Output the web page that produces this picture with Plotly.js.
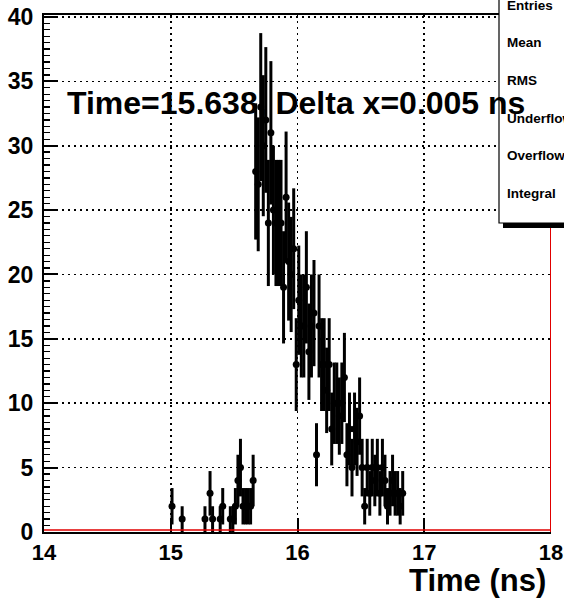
<!DOCTYPE html>
<html>
<head>
<meta charset="utf-8">
<script src="https://cdn.plot.ly/plotly-3.0.1.min.js"></script>
<style>html,body{margin:0;padding:0;background:#fff;}#chart{width:564px;height:604px;}</style>
</head>
<body>
<div id="chart"></div>
<script>
// Bin centres (ns) of non-empty bins and their counts
var binTimes = [
  15.01, 15.09, 15.27, 15.31, 15.33, 15.39, 15.41, 15.47, 15.49, 15.51,
  15.53, 15.55, 15.57, 15.59, 15.61, 15.63, 15.65,
  15.67, 15.69, 15.71, 15.73, 15.75, 15.77, 15.79, 15.81, 15.83, 15.85,
  15.87, 15.89, 15.91, 15.93, 15.95, 15.97, 15.99, 16.01, 16.03, 16.05,
  16.07, 16.09, 16.11, 16.13, 16.15, 16.17, 16.19, 16.21, 16.23, 16.25,
  16.27, 16.29, 16.31, 16.33, 16.35, 16.37, 16.39, 16.41, 16.43, 16.45,
  16.47, 16.49, 16.51, 16.53, 16.55, 16.57, 16.59, 16.61, 16.63, 16.65,
  16.67, 16.69, 16.71, 16.73, 16.75, 16.77, 16.79, 16.81, 16.83
];
var binCounts = [
  2, 1, 1, 3, 1, 1, 2, 1, 1, 2,
  4, 5, 2, 2, 2, 2, 4,
  28, 27, 33, 30, 32, 24, 31, 25, 24, 24,
  24, 19, 26, 21, 20, 22, 13, 18, 16, 16,
  19, 14, 16, 17, 6, 16, 13, 13, 11, 13,
  8, 10, 10, 9, 10, 12, 6, 8, 5, 8,
  7, 9, 5, 2, 5, 3, 5, 4, 5, 3,
  5, 4, 2, 3, 4, 3, 3, 2, 3
];
var xTickVals = [14, 15, 16, 17, 18];
var yTickVals = [0, 5, 10, 15, 20, 25, 30, 35, 40];
var titleText = 'Time=15.638, Delta x=0.005 ns';
var xTitleText = 'Time (ns)';
var statsLabels = ['Entries', 'Mean', 'RMS', 'Underflow', 'Overflow', 'Integral'];

// Poisson errors, as the histogram draws them
var binErrors = binCounts.map(function (c) { return Math.sqrt(c); });

var FONT = 'Liberation Sans, Arial, Helvetica, sans-serif';

var trace = {
  type: 'scatter',
  mode: 'markers',
  x: binTimes,
  y: binCounts,
  marker: {color: '#000', size: 7},
  error_y: {type: 'data', array: binErrors, visible: true, color: '#000', thickness: 3, width: 0},
  hoverinfo: 'x+y',
  cliponaxis: false
};

// plot area geometry in pixels (for paper-coordinate conversions)
var L = 44, T = 15, PW = 507, PH = 517;
function px(x) { return (x - L) / PW; }
function py(y) { return (T + PH - y) / PH; }

var statsY = [5, 43, 80, 118, 155, 193];
var annotations = [
  {xref: 'paper', yref: 'paper', x: px(65), y: py(103), xanchor: 'left', yanchor: 'middle',
   text: titleText, showarrow: false, font: {family: FONT, size: 32, color: '#000', weight: 'bold'}},
  {xref: 'paper', yref: 'paper', x: px(548), y: py(580), xanchor: 'right', yanchor: 'middle',
   text: xTitleText, showarrow: false, font: {family: FONT, size: 31, color: '#000', weight: 'bold'}}
];
statsLabels.forEach(function (s, i) {
  annotations.push({xref: 'paper', yref: 'paper', x: px(505), y: py(statsY[i]), xanchor: 'left', yanchor: 'middle',
    text: s, showarrow: false, font: {family: FONT, size: 13.5, color: '#000', weight: 'bold'}});
});

var shapes = [
  // red histogram frame lines
  {type: 'line', xref: 'x', yref: 'paper', x0: 14, x1: 18, y0: 0.004, y1: 0.004, line: {color: '#e00000', width: 1.5}, layer: 'above'},
  {type: 'line', xref: 'x', yref: 'paper', x0: 18, x1: 18, y0: 0, y1: 1, line: {color: '#e00000', width: 2}, layer: 'above'},
  // stats box shadow and box
  {type: 'rect', xref: 'paper', yref: 'paper', x0: px(503), x1: px(600), y0: py(228), y1: py(-30),
   fillcolor: '#000', line: {width: 0}, layer: 'above'},
  {type: 'rect', xref: 'paper', yref: 'paper', x0: px(499), x1: px(600), y0: py(223), y1: py(-30),
   fillcolor: '#fff', line: {color: '#000', width: 1.2}, layer: 'above'}
];

var layout = {
  width: 564, height: 604,
  margin: {l: L, r: 564 - L - PW, t: T, b: 604 - T - PH, pad: 0},
  paper_bgcolor: '#fff', plot_bgcolor: '#fff',
  showlegend: false,
  xaxis: {
    range: [14, 18], tickmode: 'array', tickvals: xTickVals, ticktext: xTickVals.map(String),
    ticks: 'inside', ticklen: 14, tickwidth: 2, tickcolor: '#000',
    showline: true, linecolor: '#000', linewidth: 2, mirror: true,
    showgrid: true, gridcolor: '#000', gridwidth: 1.6, griddash: '2px,4px',
    zeroline: false,
    tickfont: {family: FONT, size: 22, color: '#000', weight: 'bold'}
  },
  yaxis: {
    range: [0, 40.15], tickmode: 'array', tickvals: yTickVals, ticktext: yTickVals.map(String),
    ticks: 'inside', ticklen: 14, tickwidth: 2, tickcolor: '#000',
    minor: {ticks: 'inside', ticklen: 6, dtick: 0.5, tick0: 0, tickcolor: '#000', tickwidth: 1.3, showgrid: false},
    showline: true, linecolor: '#000', linewidth: 2,
    showgrid: true, gridcolor: '#000', gridwidth: 1.6, griddash: '2px,4px',
    zeroline: false, ticklabelstandoff: 4,
    tickfont: {family: FONT, size: 23, color: '#000', weight: 'bold'}
  },
  shapes: shapes,
  annotations: annotations
};

Plotly.newPlot('chart', [trace], layout, {displayModeBar: false, staticPlot: true});
</script>
</body>
</html>
